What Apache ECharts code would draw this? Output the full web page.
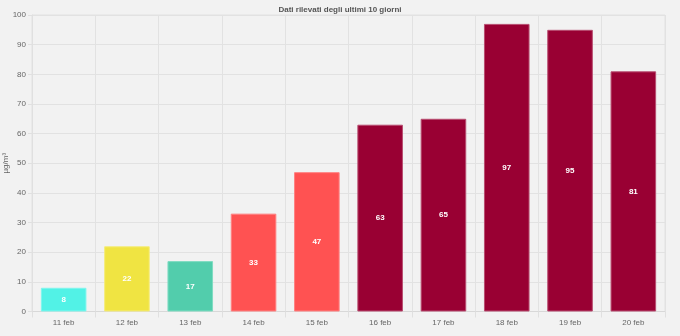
<!DOCTYPE html>
<html>
<head>
<meta charset="utf-8">
<style>
  html, body { margin: 0; padding: 0; background: #f2f2f2; }
  #chart { width: 680px; height: 336px; }
</style>
<script src="https://cdn.jsdelivr.net/npm/echarts@6/dist/echarts.min.js"></script>
</head>
<body>
<div id="chart"></div>
<script>
// Daily readings for the last ten days
const days = ['11 feb', '12 feb', '13 feb', '14 feb', '15 feb', '16 feb', '17 feb', '18 feb', '19 feb', '20 feb'];
const values = [8, 22, 17, 33, 47, 63, 65, 97, 95, 81];
// Colour band for each reading
const barColors = ['#52f2e6', '#f0e442', '#52cdac', '#ff5252', '#ff5252', '#990033', '#990033', '#990033', '#990033', '#990033'];
const borderColors = ['#7ff6ee', '#f5ec7a', '#7fdcc2', '#ff8080', '#ff8080', '#b84d70', '#b84d70', '#b84d70', '#b84d70', '#b84d70'];

const chart = echarts.init(document.getElementById('chart'));
const font = 'Liberation Sans, Arial, sans-serif';

chart.setOption({
  backgroundColor: '#f2f2f2',
  animation: false,
  title: {
    text: 'Dati rilevati degli ultimi 10 giorni',
    left: 'center',
    top: 1,
    textStyle: { fontSize: 8, fontWeight: 'bold', color: '#555', fontFamily: font }
  },
  grid: {
    left: 32, right: 15, top: 15, bottom: 24.5,
    outerBoundsMode: 'none',
    containLabel: false,
    show: true, borderColor: '#e2e2e2', borderWidth: 1
  },
  xAxis: {
    type: 'category',
    data: days,
    boundaryGap: true,
    axisLine: { lineStyle: { color: '#d8d8d8' } },
    axisTick: { show: true, length: 6, lineStyle: { color: '#e0e0e0' } },
    splitLine: { show: true, lineStyle: { color: '#e2e2e2' } },
    axisLabel: { color: '#666', fontSize: 8, margin: 7, fontFamily: font }
  },
  yAxis: {
    type: 'value',
    min: 0, max: 100, interval: 10,
    name: 'µg/m³',
    nameLocation: 'middle',
    nameRotate: 90,
    nameGap: 22,
    nameMoveOverlap: false,
    nameTextStyle: { color: '#666', fontSize: 8, fontFamily: font },
    axisLine: { show: true, lineStyle: { color: '#e0e0e0' } },
    axisTick: { show: true, length: 4, lineStyle: { color: '#e0e0e0' } },
    splitLine: { lineStyle: { color: '#e2e2e2' } },
    axisLabel: { color: '#666', fontSize: 8, margin: 6, fontFamily: font }
  },
  series: [{
    type: 'bar',
    barCategoryGap: '28%',
    data: values.map((v, i) => ({
      value: v,
      itemStyle: { color: barColors[i], borderColor: borderColors[i], borderWidth: 1 }
    })),
    label: {
      show: true,
      position: 'inside',
      color: '#fff',
      fontWeight: 'bold',
      fontSize: 8,
      fontFamily: font
    }
  }]
});
</script>
</body>
</html>
